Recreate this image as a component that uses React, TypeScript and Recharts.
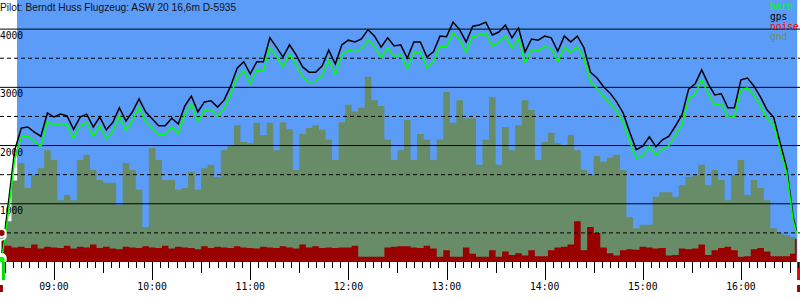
import React from 'react';
import { ComposedChart, Area, Line, XAxis, YAxis, ReferenceLine, ReferenceArea } from 'recharts';

// Flight record sampled every 4 minutes from 08:28 (minutes since midnight)
const START_MIN = 508;
const STEP_MIN = 4;
const LAST_MIN = 994;

const GPS = [
  70, 980, 1920, 2300, 2320, 2230, 2160, 2560, 2490, 2540,
  2510, 2280, 2490, 2540, 2320, 2490, 2270, 2400, 2650, 2420,
  2580, 2800, 2580, 2460, 2340, 2340, 2470, 2370, 2680, 2850,
  2580, 2750, 2770, 2660, 2780, 3020, 3330, 3440, 3230, 3440,
  3440, 3850, 3690, 3520, 3730, 3560, 3350, 3260, 3260, 3370,
  3640, 3400, 3730, 3810, 3780, 3830, 3990, 3880, 3690, 3850,
  3710, 3730, 3500, 3780, 3780, 3520, 3610, 3880, 3870, 4120,
  3990, 3780, 4050, 4070, 4120, 3900, 3950, 4070, 3850, 4020,
  3610, 3830, 3810, 3880, 3850, 3620, 3880, 3780, 3880, 3680,
  3260, 3160, 3010, 2900, 2750, 2560, 2230, 1930, 1990, 2150,
  1980, 2100, 2160, 2340, 2530, 2970, 3060, 3300, 3060, 2870,
  2890, 2650, 2650, 3130, 3160, 3020, 2830, 2610, 2490, 2040,
  1610, 760, 530,
];

const BARO = [
  40, 820, 1760, 2140, 2170, 2070, 1990, 2410, 2350, 2380,
  2360, 2120, 2340, 2400, 2160, 2340, 2110, 2250, 2510, 2260,
  2430, 2660, 2410, 2310, 2180, 2190, 2320, 2210, 2530, 2710,
  2410, 2600, 2620, 2500, 2630, 2870, 3170, 3290, 3060, 3290,
  3280, 3690, 3530, 3350, 3570, 3390, 3180, 3090, 3100, 3200,
  3470, 3220, 3560, 3640, 3610, 3660, 3820, 3700, 3510, 3680,
  3530, 3560, 3320, 3600, 3610, 3340, 3440, 3700, 3700, 3940,
  3810, 3600, 3870, 3900, 3930, 3710, 3770, 3880, 3670, 3840,
  3430, 3650, 3630, 3700, 3670, 3440, 3690, 3600, 3700, 3500,
  3090, 2990, 2840, 2730, 2590, 2400, 2070, 1780, 1830, 1990,
  1830, 1940, 2000, 2180, 2360, 2800, 2890, 3130, 2890, 2700,
  2720, 2490, 2490, 2960, 2990, 2860, 2680, 2470, 2360, 1930,
  1520, 700, 500,
];

const GND = [
  450, 700, 1400, 1700, 1270, 1490, 1610, 1920, 1750, 1060,
  1150, 1060, 1750, 1840, 1580, 1410, 1360, 1360, 980, 1700,
  1580, 1240, 600, 1960, 1750, 1410, 1410, 1240, 1270, 1550,
  1240, 1610, 1670, 1460, 1920, 2010, 2350, 2060, 2040, 2390,
  2180, 2390, 1920, 2400, 2280, 1580, 2200, 2300, 2350, 2270,
  2100, 1750, 2400, 2700, 2580, 2650, 3180, 2780, 2680, 2100,
  1750, 1920, 2440, 1750, 2200, 2100, 1750, 2100, 2920, 2390,
  2780, 2470, 2470, 1670, 2100, 2830, 1670, 2320, 1920, 2350,
  2780, 2610, 1750, 2060, 2220, 2040, 2010, 2180, 1920, 1580,
  1490, 1820, 1720, 1790, 1840, 1580, 770, 580, 640, 640,
  1120, 1200, 1200, 1120, 1320, 1460, 1490, 1670, 1320, 1580,
  1410, 1060, 1490, 1750, 1150, 1410, 1270, 1060, 580, 500,
  460, 430, 380,
];

const NOISE = [
  500, 280, 250, 260, 240, 300, 230, 260, 250, 240,
  280, 230, 260, 250, 300, 240, 260, 230, 220, 260,
  250, 240, 270, 250, 240, 280, 230, 260, 250, 240,
  220, 270, 240, 260, 250, 240, 270, 250, 240, 230,
  260, 250, 240, 270, 250, 230, 300, 250, 270, 240,
  250, 240, 250, 250, 280, 90, 90, 90, 90, 250,
  260, 270, 270, 250, 240, 280, 230, 90, 200, 90,
  90, 250, 140, 90, 90, 200, 90, 180, 120, 150,
  110, 200, 100, 100, 200, 250, 260, 300, 700, 200,
  600, 500, 250, 150, 110, 200, 220, 210, 260, 250,
  230, 240, 110, 120, 230, 220, 230, 300, 120, 200,
  240, 260, 200, 90, 100, 220, 240, 180, 100, 100,
  100, 140, 400,
];

const TIMES = GPS.map((_, i) => (i === GPS.length - 1 ? LAST_MIN : START_MIN + STEP_MIN * i));

const data = TIMES.map((t, i) => ({ t, gps: GPS[i], baro: BARO[i], gnd: GND[i], noise: NOISE[i] }));

const X_DOMAIN: [number, number] = [507, 996.1];
const Y_DOMAIN: [number, number] = [0, 4500];
const SOLID_LEVELS = [1000, 2000, 3000, 4000];
const DASH_LEVELS = [500, 1500, 2500, 3500];
const RECORD_WINDOW: [number, number] = [517.4, 994.4];
const TAKEOFF: [number, number] = [508.2, 510.0];
const LANDING: [number, number] = [994.3, 996.1];
const TICKS: number[] = [];
for (let m = 510; m <= 995; m += 5) TICKS.push(m);

const TITLE = 'Pilot: Berndt Huss Flugzeug: ASW 20 16,6m D-5935';
const LEGEND = [
  { name: 'baro', color: '#00ff00' },
  { name: 'gps', color: '#000000' },
  { name: 'noise', color: '#ff0000' },
  { name: 'gnd', color: '#6b8e6b' },
];

const BG = '#5b9cf8';
const GND_FILL = '#678c67';
const NOISE_FILL = '#990000';
const MONO = '"DejaVu Sans Mono", monospace';

const pad = (n: number) => (n < 10 ? '0' + n : '' + n);

const TimeTick = (props: any) => {
  const { x, y, payload } = props;
  const v = payload.value as number;
  const isHour = v % 60 === 0;
  const isHalf = v % 30 === 0;
  const len = isHour ? 18 : isHalf ? 11 : 6;
  const px = Math.round(x) + 0.5;
  return (
    <g>
      <line x1={px} x2={px} y1={y} y2={y + len} stroke="#000" strokeWidth={1} />
      {isHour && (
        <text x={x} y={y + 27.5} textAnchor="middle" fontFamily={MONO} fontSize={9.8} fill="#000">
          {pad(Math.floor(v / 60)) + ':00'}
        </text>
      )}
    </g>
  );
};

const levelLabel = (text: string) => (p: any) => (
  <text x={p.viewBox.x} y={p.viewBox.y + 10} fontFamily={MONO} fontSize={9.6} fill="#000">
    {text}
  </text>
);

export default function App() {
  return (
    <div style={{ position: 'absolute', left: 0, top: 0, width: 800, height: 300, background: '#fff' }}>
      <ComposedChart width={800} height={300} data={data} margin={{ top: 0, right: 0, bottom: 0, left: 0 }}>
        <XAxis
          dataKey="t"
          type="number"
          domain={X_DOMAIN}
          ticks={TICKS}
          interval={0}
          tick={<TimeTick />}
          tickSize={0}
          tickMargin={0}
          axisLine={false}
          tickLine={false}
          height={38}
          allowDataOverflow
        />
        <YAxis hide domain={Y_DOMAIN} allowDataOverflow />
        <ReferenceArea x1={RECORD_WINDOW[0]} x2={RECORD_WINDOW[1]} fill={BG} fillOpacity={1} stroke="none" />
        <Area dataKey="gnd" type="step" stroke="none" fill={GND_FILL} fillOpacity={1} isAnimationActive={false} />
        <Area dataKey="noise" type="step" stroke="none" fill={NOISE_FILL} fillOpacity={1} isAnimationActive={false} />
        {SOLID_LEVELS.map((l) => (
          <ReferenceLine key={'s' + l} y={l} stroke="#000" strokeWidth={1} label={levelLabel(String(l))} />
        ))}
        {DASH_LEVELS.map((l) => (
          <ReferenceLine key={'d' + l} y={l} stroke="#000" strokeWidth={1} strokeDasharray="4 3" />
        ))}
        <Line dataKey="gps" type="linear" stroke="#000" strokeWidth={1.5} dot={false} isAnimationActive={false} />
        <Line dataKey="baro" type="linear" stroke="#00ff00" strokeWidth={1.5} dot={false} isAnimationActive={false} />
        <ReferenceArea x1={TAKEOFF[0]} x2={TAKEOFF[1]} y1={-310} y2={0} fill="#00dd00" fillOpacity={1} stroke="none" ifOverflow="visible" />
        <ReferenceArea x1={507} x2={TAKEOFF[0] + 0.6} y1={-515} y2={-395} fill={NOISE_FILL} fillOpacity={1} stroke="none" ifOverflow="visible" />
        <ReferenceArea x1={LANDING[0]} x2={LANDING[1]} y1={-310} y2={0} fill="#ee0000" fillOpacity={1} stroke="none" ifOverflow="visible" />
        <ReferenceArea x1={LANDING[0]} x2={LANDING[1]} y1={-515} y2={-395} fill={NOISE_FILL} fillOpacity={1} stroke="none" ifOverflow="visible" />
      </ComposedChart>
      <svg width={800} height={300} style={{ position: 'absolute', left: 0, top: 0, pointerEvents: 'none' }}>
        <text x={0} y={10.5} fontFamily='"Liberation Sans", Arial, sans-serif' fontSize={10.2} fill="#111">
          {TITLE}
        </text>
        {LEGEND.map((l, i) => (
          <text key={l.name} x={770} y={10 + i * 10} fontFamily={MONO} fontSize={9.6} fill={l.color}>
            {l.name}
          </text>
        ))}
      </svg>
    </div>
  );
}
